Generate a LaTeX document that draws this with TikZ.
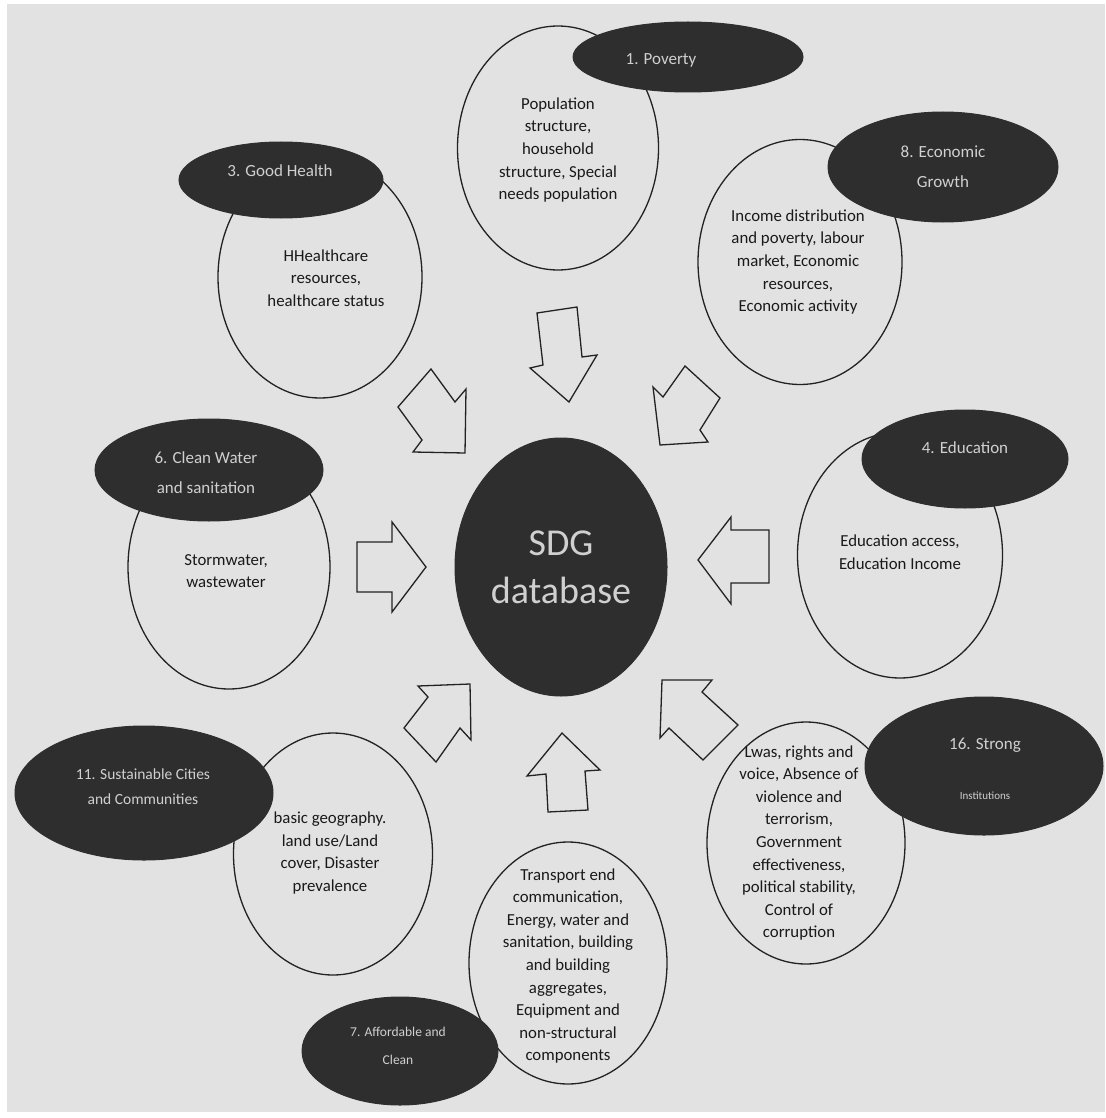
\documentclass[tikz,border=0pt]{standalone}
\usepackage{fontspec}
\setmainfont{Carlito}
\usetikzlibrary{shapes.geometric}
\definecolor{paper}{HTML}{E2E2E2}
\definecolor{ink}{HTML}{2E2E2E}
\definecolor{lighttext}{HTML}{D0D0D0}
\definecolor{linec}{HTML}{222222}
\begin{document}
\begin{tikzpicture}[x=1pt,y=-1pt,
  detail/.style={ellipse, draw=linec, line width=1.3pt, fill=paper, inner sep=0pt},
  goal/.style={ellipse, draw=ink, line width=1pt, fill=ink, inner sep=0pt},
  dtext/.style={align=center, font=\fontsize{16.8}{22.6}\selectfont, text=black!90, inner sep=0pt},
  gtext/.style={align=center, font=\fontsize{17}{30}\selectfont, text=lighttext, inner sep=0pt},
  blockarrow/.style={draw=linec, line width=1.3pt, fill=paper, line join=miter}]
\useasboundingbox (0,0) rectangle (1105,1118);
\fill[white] (0,0) rectangle (1105,1118);
\fill[paper] (7,4) rectangle (1105,1112);

% centre
\node[goal, minimum width=212pt, minimum height=258pt] (db) at (561,567) {};
\node[align=center, text=lighttext, font=\fontsize{38}{48}\selectfont, inner sep=0pt] (dbt) at (db.center) {SDG\\database};

% 1 Poverty
\node[detail, minimum width=201pt, minimum height=244pt] (pov) at (558,148) {};
\node[dtext] (povt) at (558,150) {Population\\structure,\\household\\structure, Special\\needs population};
\node[goal, minimum width=230pt, minimum height=70pt] (gpov) at (688,57) {};
\node[gtext] (gpovt) at (661,60) {1. Poverty};

% 8 Economic Growth
\node[detail, minimum width=204pt, minimum height=245pt] (eco) at (800,262) {};
\node[dtext] (ecot) at (798,262) {Income distribution\\and poverty, labour\\market, Economic\\resources,\\Economic activity};
\node[goal, minimum width=230pt, minimum height=110pt] (geco) at (943,167) {};
\node[gtext] (gecot) at (943,167) {8. Economic\\Growth};

% 3 Good Health
\node[detail, minimum width=204pt, minimum height=242pt] (hea) at (320,277) {};
\node[dtext] (heat) at (326,278) {HHealthcare\\resources,\\healthcare status};
\node[goal, minimum width=204pt, minimum height=76pt] (ghea) at (281,180) {};
\node[gtext] (gheat) at (280,171) {3. Good Health};

% 4 Education
\node[detail, minimum width=205pt, minimum height=246pt] (edu) at (900,555) {};
\node[dtext] (edut) at (900,552) {Education access,\\Education Income};
\node[goal, minimum width=206pt, minimum height=98pt] (gedu) at (965,459) {};
\node[gtext] (gedut) at (965,448) {4. Education};

% 6 Clean Water
\node[detail, minimum width=202pt, minimum height=244pt] (wat) at (229,567) {};
\node[dtext] (watt) at (226,571) {Stormwater,\\wastewater};
\node[goal, minimum width=228pt, minimum height=102pt] (gwat) at (209,470) {};
\node[gtext] (gwatt) at (206,473) {6. Clean Water\\and sanitation};

% 16 Strong Institutions
\node[detail, minimum width=198pt, minimum height=242pt] (str) at (806,843) {};
\node[dtext] (strt) at (799,843) {Lwas, rights and\\voice, Absence of\\violence and\\terrorism,\\Government\\effectiveness,\\political stability,\\Control of\\corruption};
\node[goal, minimum width=238pt, minimum height=138pt] (gstr) at (984,766) {};
\node[gtext] (gstrt) at (985,745) {16. Strong};
\node[gtext, font=\fontsize{11}{13}\selectfont] (gstrt2) at (985,796) {Institutions};

% 11 Sustainable Cities
\node[detail, minimum width=199pt, minimum height=242pt] (sus) at (333,854) {};
\node[dtext] (sust) at (330,853) {basic geography.\\land use/Land\\cover, Disaster\\prevalence};
\node[goal, minimum width=258pt, minimum height=134pt] (gsus) at (144,793) {};
\node[gtext, font=\fontsize{15.5}{25}\selectfont] (gsust) at (143,787) {11. Sustainable Cities\\and Communities};

% 7 Affordable and Clean
\node[detail, minimum width=198pt, minimum height=242pt] (aff) at (568,963) {};
\node[dtext] (afft) at (568,966) {Transport end\\communication,\\Energy, water and\\sanitation, building\\and building\\aggregates,\\Equipment and\\non-structural\\components};
\node[goal, minimum width=196pt, minimum height=108pt] (gaff) at (400,1051) {};
\node[gtext, font=\fontsize{13.5}{28}\selectfont] (gafft) at (398,1046) {7. Affordable and\\Clean};

% block arrows towards the centre
\draw[blockarrow] (537,313) -- (577,307) -- (582,357) -- (597,355) -- (569,402) -- (530,368) -- (543,365) -- cycle;
\draw[blockarrow] (431,369) -- (455,402) -- (466,389) -- (465,453) -- (413,452) -- (422,440) -- (398,407) -- cycle;
\draw[blockarrow] (685,366) -- (720,398) -- (700,430) -- (708,442) -- (660,445) -- (653,387) -- (663,397) -- cycle;
\draw[blockarrow] (357,542) -- (392,542) -- (392,522) -- (426,567) -- (392,612) -- (392,592) -- (357,592) -- cycle;
\draw[blockarrow] (698,560) -- (731,517) -- (731,530) -- (769,530) -- (769,583) -- (731,583) -- (731,604) -- cycle;
\draw[blockarrow] (470,684) -- (471,740) -- (460,728) -- (436,762) -- (404,728) -- (428,697) -- (418,686) -- cycle;
\draw[blockarrow] (562,733) -- (600,770) -- (585,771) -- (588,810) -- (548,812) -- (546,774) -- (527,776) -- cycle;
\draw[blockarrow] (662,680) -- (712,680) -- (702,692) -- (738,725) -- (703,760) -- (669,728) -- (660,738) -- cycle;
\end{tikzpicture}
\end{document}
